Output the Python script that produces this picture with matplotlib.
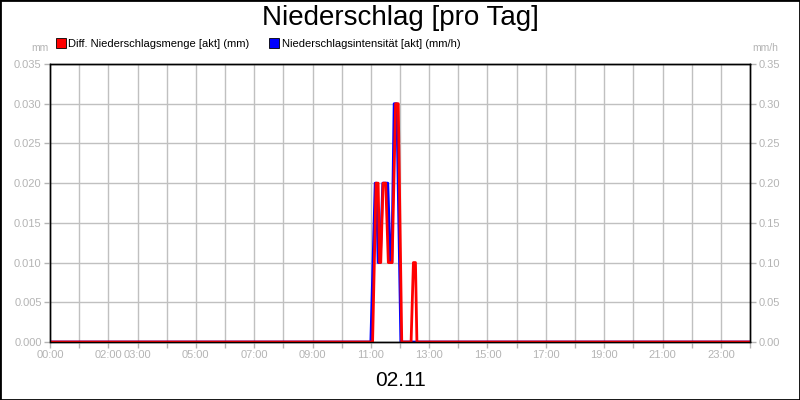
import matplotlib
matplotlib.use("Agg")
import matplotlib.pyplot as plt
from matplotlib.lines import Line2D

plt.rcParams['font.family'] = ['Liberation Sans', 'DejaVu Sans']

# Diff. Niederschlagsmenge (mm), time in hours of the day
menge_t = [0.0, 11.06, 11.18, 11.25, 11.30, 11.34, 11.42, 11.51, 11.60, 11.73,
           11.85, 11.94, 12.06, 12.38, 12.46, 12.53, 12.58, 24.0]
menge_mm = [0.0, 0.0, 0.02, 0.02, 0.01, 0.01, 0.02, 0.02, 0.01, 0.01,
            0.03, 0.03, 0.0, 0.0, 0.01, 0.01, 0.0, 0.0]

# Niederschlagsintensitaet (mm/h)
int_t = [0.0, 11.0, 11.15, 11.19, 11.25, 11.32, 11.41, 11.58, 11.67, 11.72,
         11.80, 11.89, 12.03, 24.0]
int_mmh = [0.0, 0.0, 0.2, 0.2, 0.1, 0.1, 0.2, 0.2, 0.1, 0.1,
           0.3, 0.3, 0.0, 0.0]

hour_labels = {0: "00:00", 2: "02:00", 3: "03:00", 5: "05:00", 7: "07:00",
               9: "09:00", 11: "11:00", 13: "13:00", 15: "15:00", 17: "17:00",
               19: "19:00", 21: "21:00", 23: "23:00"}
left_ticks = [0.000, 0.005, 0.010, 0.015, 0.020, 0.025, 0.030, 0.035]
right_ticks = [0.00, 0.05, 0.10, 0.15, 0.20, 0.25, 0.30, 0.35]

grey = '#b4b4b4'
red = '#ff0000'
blue = '#0000ff'

fig = plt.figure(figsize=(8, 4), dpi=100)
fig.patch.set_facecolor('white')

ax = fig.add_axes([50/800, 58/400, 700/800, 278/400])
ax2 = ax.twinx()
# red drawn above blue
ax.set_zorder(ax2.get_zorder() + 1)
ax.patch.set_visible(False)

ax2.plot(int_t, int_mmh, color=blue, lw=2, solid_joinstyle='round')
ax.plot(menge_t, menge_mm, color=red, lw=2, solid_joinstyle='round')

ax.set_xlim(0, 24)
ax.set_ylim(0, 0.035)
ax2.set_ylim(0, 0.35)

ax.set_xticks(range(25))
ax.set_xticklabels([hour_labels.get(h, "") for h in range(25)])
ax.set_yticks(left_ticks)
ax.set_yticklabels([f"{v:.3f}" for v in left_ticks])
ax2.set_yticks(right_ticks)
ax2.set_yticklabels([f"{v:.2f}" for v in right_ticks])

for a in (ax, ax2):
    a.tick_params(axis='both', colors=grey, labelcolor=grey, labelsize=8,
                  length=4, width=1, direction='out', pad=2)
    for s in a.spines.values():
        s.set_color('black')
        s.set_linewidth(1)

ax2.grid(True, color='#c0c0c0', lw=1)
ax2.set_axisbelow(True)
# vertical grid also needs drawing beneath blue line
for h in range(1, 24):
    ax2.axvline(h, color='#c0c0c0', lw=1, zorder=0)

fig.text(400/800, 1 - 18/400, "Niederschlag [pro Tag]", ha='center', va='center',
         fontsize=20, color='black')
fig.text(40/800, 1 - 48/400, "mm", ha='center', va='center', fontsize=7.5, color=grey)
fig.text(765/800, 1 - 48/400, "mm/h", ha='center', va='center', fontsize=7.5, color=grey)
fig.text(400/800, 1 - 380/400, "02.11", ha='center', va='center', fontsize=15,
         color='black')

handles = [
    Line2D([], [], ls='none', marker='s', markersize=6.5, markerfacecolor=red,
           markeredgecolor='black', markeredgewidth=0.6),
    Line2D([], [], ls='none', marker='s', markersize=6.5, markerfacecolor=blue,
           markeredgecolor='black', markeredgewidth=0.6),
]
fig.legend(handles, ["Diff. Niederschlagsmenge [akt] (mm)",
                     "Niederschlagsintensität [akt] (mm/h)"],
           loc='center left', bbox_to_anchor=(57/800, 1 - 44/400), ncol=2,
           frameon=False, fontsize=8, handlelength=0.7, handletextpad=0.3,
           columnspacing=1.9, borderaxespad=0, borderpad=0)

fig.add_artist(plt.Rectangle((0, 0), 1, 1, transform=fig.transFigure,
                             fill=False, edgecolor='black', lw=2))

fig.savefig("out.png", dpi=100)
